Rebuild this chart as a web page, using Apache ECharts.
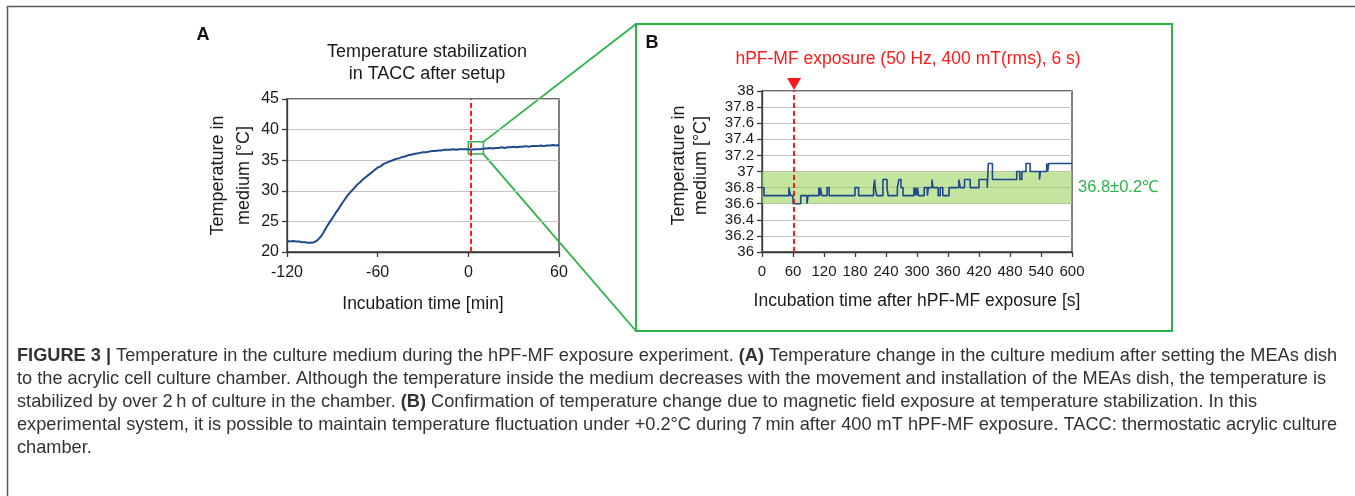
<!DOCTYPE html>
<html>
<head>
<meta charset="utf-8">
<script src="https://cdn.jsdelivr.net/npm/echarts@6/dist/echarts.min.js"></script>
<style>
html,body{margin:0;padding:0;background:#fff;}
#c{width:1355px;height:496px;}
</style>
</head>
<body>
<div id="c"></div>
<script>
// ---- Panel A data: temperature (°C) vs incubation time (min)
var timeA = [-120,-118,-116,-114,-112,-110,-108,-106,-104,-102,-100,-98,-96,-94,-92,-90,-88,-86,-84,-82,-80,-78,-76,-74,-72,-70,-68,-66,-64,-62,-60,-58,-56,-54,-52,-50,-48,-46,-44,-42,-40,-38,-36,-34,-32,-30,-28,-26,-24,-22,-20,-18,-16,-14,-12,-10,-8,-6,-4,-2,0,2,4,6,8,10,12,14,16,18,20,22,24,26,28,30,32,34,36,38,40,42,44,46,48,50,52,54,56,58,60];
var tempA = [21.8,21.7,21.8,21.7,21.7,21.6,21.6,21.5,21.5,21.6,21.9,22.4,23.1,24.0,24.8,25.5,26.3,27.0,27.8,28.5,29.2,29.8,30.3,30.9,31.3,31.8,32.2,32.6,33.0,33.4,33.8,34.0,34.4,34.6,34.8,35.0,35.2,35.3,35.5,35.6,35.8,35.9,36.0,36.1,36.2,36.3,36.3,36.4,36.5,36.5,36.6,36.6,36.7,36.7,36.7,36.8,36.7,36.8,36.8,36.8,36.8,36.7,36.8,36.8,36.8,36.9,36.9,37.0,36.9,37.0,37.0,37.1,37.0,37.1,37.1,37.2,37.1,37.2,37.2,37.3,37.2,37.3,37.3,37.3,37.4,37.3,37.4,37.4,37.5,37.4,37.5];
var exposureA = 1.5;          // min
var zoomWindowA = [[0, 36], [10, 38]]; // [min, °C] region enlarged in B

// ---- Panel B data: step trace (s, °C)
var timeB = [0,4,52,55,60,75,87,89,110,112,113,116,126,130,180,187,216,218,219,222,234,242,244,262,265,269,273,294,295,297,299,301,303,314,320,322,329,331,341,345,350,362,381,384,392,403,420,436,438,446,493,499,503,511,519,537,539,551,553,555,600];
var tempB = [36.8,36.7,36.8,36.7,36.6,36.7,36.6,36.7,36.8,36.7,36.8,36.7,36.8,36.7,36.8,36.7,36.8,36.9,36.8,36.7,36.9,36.8,36.7,36.8,36.9,36.8,36.7,36.8,36.7,36.8,36.7,36.8,36.7,36.8,36.7,36.8,36.9,36.8,36.7,36.8,36.7,36.8,36.9,36.8,36.9,36.8,36.9,36.8,37.1,36.9,37.0,36.9,37.0,37.1,37.0,36.9,37.0,37.1,37.0,37.1,37.1];
var exposureB = 62;           // s
var bandB = [36.6, 37.0];
var bandLabel = '36.8\u00b10.2\u2103';

var ticksAx = {min: -120, max: 60, interval: 60};
var ticksAy = {min: 20, max: 45, interval: 5};
var ticksBx = {min: 0, max: 600, interval: 60};
var ticksBy = {min: 36, max: 38, interval: 0.2};

var captionLines = [
  [{b:'FIGURE 3 | '},{t:'Temperature in the culture medium during the hPF-MF exposure experiment. '},{b:'(A)'},{t:' Temperature change in the culture medium after setting the MEAs dish'}],
  [{t:'to the acrylic cell culture chamber. Although the temperature inside the medium decreases with the movement and installation of the MEAs dish, the temperature is'}],
  [{t:'stabilized by over 2\u2009h of culture in the chamber. '},{b:'(B)'},{t:' Confirmation of temperature change due to magnetic field exposure at temperature stabilization. In this'}],
  [{t:'experimental system, it is possible to maintain temperature fluctuation under +0.2\u00b0C during 7\u2009min after 400 mT hPF-MF exposure. TACC: thermostatic acrylic culture'}],
  [{t:'chamber.'}]
];

var FONT = 'Liberation Sans, Arial, sans-serif';
var GREEN = '#2cb34a';
var RED = '#ff1a1a';
var BLUE = '#1f4a8a';
var INK = '#1a1a1a';

var dataA = timeA.map(function(t,i){return [t,tempA[i]];});
var dataB = timeB.map(function(t,i){return [t,tempB[i]];});

function fmt(v){ return String(Math.round(v*10)/10); }

function axisBase(){
  return {
    axisLine:{show:true, onZero:false, lineStyle:{color:'#3a3a3a', width:1.3}},
    axisTick:{show:true, length:5, lineStyle:{color:'#3a3a3a', width:1.3}}
  };
}

var captionGraphics = [];
var capY0 = 356, capDy = 23, CAPFS = 18.2;
captionLines.forEach(function(parts, i){
  var txt = parts.map(function(p){ return p.b ? '{b|'+p.b+'}' : '{t|'+p.t+'}'; }).join('');
  captionGraphics.push({
    type:'text', x:17, y: capY0 + i*capDy,
    style:{text: txt, fontFamily:FONT, fontSize:CAPFS, fill:'#333', textVerticalAlign:'middle', textAlign:'left',
      rich:{ b:{fontWeight:'bold', fontSize:CAPFS, fontFamily:FONT, color:'#333'},
             t:{fontSize:CAPFS, fontFamily:FONT, color:'#333'} } }
  });
});

var chart = echarts.init(document.getElementById('c'), null, {renderer:'canvas'});

var option = {
  backgroundColor:'#fff',
  animation:false,
  grid:[
    {left:287, top:99, width:272, height:153, show:true, borderColor:'#3a3a3a', borderWidth:1.3, backgroundColor:'transparent'},
    {left:762, top:91, width:310, height:161, show:true, borderColor:'#3a3a3a', borderWidth:1.3, backgroundColor:'transparent'}
  ],
  xAxis:[
    Object.assign(axisBase(), {type:'value', gridIndex:0, min:ticksAx.min, max:ticksAx.max, interval:ticksAx.interval,
      splitLine:{show:false},
      axisLabel:{fontFamily:FONT, fontSize:16, color:INK, margin:13},
      name:'Incubation time [min]', nameLocation:'middle', nameGap:43,
      nameTextStyle:{fontFamily:FONT, fontSize:17.5, color:INK}}),
    Object.assign(axisBase(), {type:'value', gridIndex:1, min:ticksBx.min, max:ticksBx.max, interval:ticksBx.interval,
      splitLine:{show:false},
      axisLabel:{fontFamily:FONT, fontSize:15, color:INK, margin:12},
      name:'Incubation time after hPF-MF exposure [s]', nameLocation:'middle', nameGap:40,
      nameTextStyle:{fontFamily:FONT, fontSize:17.5, color:INK}})
  ],
  yAxis:[
    Object.assign(axisBase(), {type:'value', gridIndex:0, min:ticksAy.min, max:ticksAy.max, interval:ticksAy.interval,
      splitLine:{show:true, lineStyle:{color:'#c4c4c4', width:1}},
      axisLabel:{fontFamily:FONT, fontSize:16, color:INK, margin:8},
      name:'Temperature in\nmedium [\u00b0C]', nameLocation:'middle', nameGap:30, nameRotate:90,
      nameTextStyle:{fontFamily:FONT, fontSize:18, color:INK, lineHeight:26}}),
    Object.assign(axisBase(), {type:'value', gridIndex:1, min:ticksBy.min, max:ticksBy.max, interval:ticksBy.interval,
      splitLine:{show:true, lineStyle:{color:'#c4c4c4', width:1}},
      axisLabel:{fontFamily:FONT, fontSize:15, color:INK, margin:8, formatter:fmt},
      name:'Temperature in\nmedium [\u00b0C]', nameLocation:'middle', nameGap:50, nameRotate:90,
      nameTextStyle:{fontFamily:FONT, fontSize:18, color:INK, lineHeight:22, padding:[0,0,0,12]}})
  ],
  series:[
    {type:'line', xAxisIndex:0, yAxisIndex:0, data:dataA, showSymbol:false, symbol:'none',
      lineStyle:{color:BLUE, width:2}, z:3,
      markLine:{silent:true, symbol:['none','none'], label:{show:false},
        lineStyle:{color:RED, type:[5,3], width:2}, data:[{xAxis:exposureA}]},
      markArea:{silent:true, itemStyle:{color:'rgba(0,0,0,0)', borderColor:GREEN, borderWidth:1.5},
        data:[[{coord:zoomWindowA[0]},{coord:zoomWindowA[1]}]]}
    },
    {type:'line', xAxisIndex:1, yAxisIndex:1, data:dataB, step:'end', showSymbol:false, symbol:'none',
      lineStyle:{color:BLUE, width:1.6}, z:3,
      markLine:{silent:true, symbol:['none','none'], label:{show:false},
        lineStyle:{color:RED, type:[5,3], width:2}, data:[{xAxis:exposureB}]},
      markArea:{silent:true, itemStyle:{color:'rgba(146,208,80,0.55)'},
        label:{show:true, position:'right', distance:6, formatter:bandLabel, color:GREEN, fontFamily:FONT, fontSize:16.5},
        data:[[{yAxis:bandB[0]},{yAxis:bandB[1]}]]},
      markPoint:{silent:true, symbol:'triangle', symbolRotate:180, symbolSize:[14,12], symbolOffset:[0,-7],
        itemStyle:{color:RED}, label:{show:false},
        data:[{coord:[exposureB, ticksBy.max]}]}
    }
  ],
  graphic: [
    {type:'polyline', shape:{points:[[7.5,496],[7.5,6.5],[1355,6.5]]}, style:{stroke:'#5a5a5a', lineWidth:1.5, fill:null}, silent:true},
    {type:'rect', shape:{x:636, y:24, width:536, height:307}, style:{stroke:GREEN, lineWidth:2, fill:null}, silent:true},
    {type:'text', x:203, y:35, style:{text:'A', fontFamily:FONT, fontWeight:'bold', fontSize:18, fill:'#111', textAlign:'center', textVerticalAlign:'middle'}},
    {type:'text', x:652, y:43, style:{text:'B', fontFamily:FONT, fontWeight:'bold', fontSize:18, fill:'#111', textAlign:'center', textVerticalAlign:'middle'}},
    {type:'text', x:427, y:52, style:{text:'Temperature stabilization', fontFamily:FONT, fontSize:18, fill:INK, textAlign:'center', textVerticalAlign:'middle'}},
    {type:'text', x:427, y:74, style:{text:'in TACC after setup', fontFamily:FONT, fontSize:18, fill:INK, textAlign:'center', textVerticalAlign:'middle'}},
    {type:'text', x:908, y:59, style:{text:'hPF-MF exposure (50 Hz, 400 mT(rms), 6 s)', fontFamily:FONT, fontSize:17.5, fill:RED, textAlign:'center', textVerticalAlign:'middle'}}
  ].concat(captionGraphics)
};
chart.setOption(option);

// connectors from the zoom window in A to the B frame
var pTop = chart.convertToPixel({gridIndex:0}, [zoomWindowA[1][0], zoomWindowA[1][1]]);
var pBot = chart.convertToPixel({gridIndex:0}, [zoomWindowA[1][0], zoomWindowA[0][1]]);
var g = option.graphic.slice();
g.push({type:'line', shape:{x1:pTop[0], y1:pTop[1], x2:636, y2:24}, style:{stroke:GREEN, lineWidth:1.8}, silent:true});
g.push({type:'line', shape:{x1:pBot[0], y1:pBot[1], x2:636, y2:331}, style:{stroke:GREEN, lineWidth:1.8}, silent:true});
chart.setOption({graphic:g});
</script>
</body>
</html>
